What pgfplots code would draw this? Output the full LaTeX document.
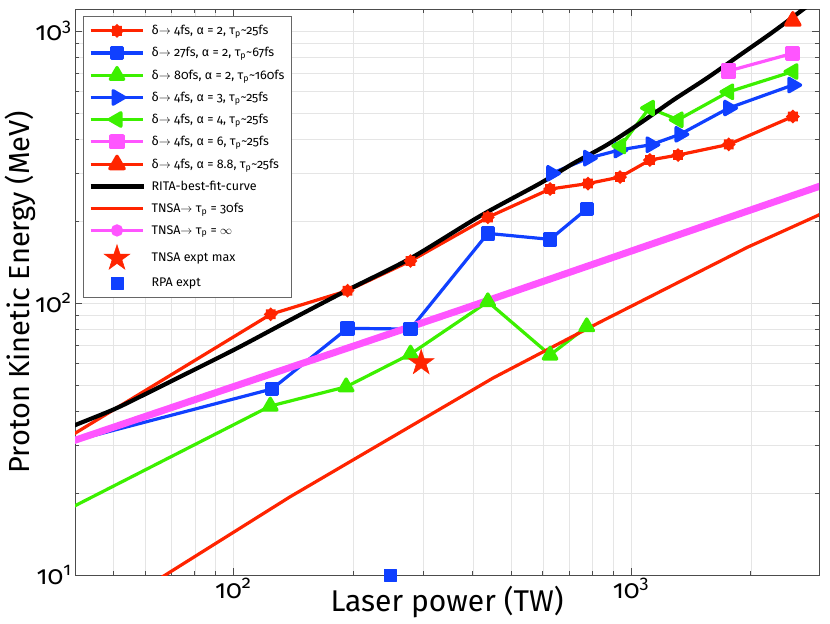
\documentclass[border=0pt]{standalone}
\usepackage{fontspec}
\setmainfont{Fira Sans}[Numbers=OldStyle]
\usepackage{pgfplots}
\pgfplotsset{compat=1.18}
\definecolor{cR}{RGB}{255,36,0}
\definecolor{cB}{RGB}{16,64,255}
\definecolor{cG}{RGB}{60,240,0}
\definecolor{cM}{RGB}{255,85,255}
\pgfdeclareplotmark{mstar}{%
  \pgfsetroundcap\pgfsetlinewidth{0.55\pgfplotmarksize}%
  \pgfpathmoveto{\pgfpoint{-0.72\pgfplotmarksize}{0pt}}\pgfpathlineto{\pgfpoint{0.72\pgfplotmarksize}{0pt}}%
  \pgfpathmoveto{\pgfpoint{0pt}{-0.72\pgfplotmarksize}}\pgfpathlineto{\pgfpoint{0pt}{0.72\pgfplotmarksize}}%
  \pgfpathmoveto{\pgfpointpolar{45}{0.72\pgfplotmarksize}}\pgfpathlineto{\pgfpointpolar{225}{0.72\pgfplotmarksize}}%
  \pgfpathmoveto{\pgfpointpolar{135}{0.72\pgfplotmarksize}}\pgfpathlineto{\pgfpointpolar{315}{0.72\pgfplotmarksize}}%
  \pgfusepathqstroke}
\pgfdeclareplotmark{fstar}{%
  \pgfpathmoveto{\pgfpointpolar{90}{\pgfplotmarksize}}%
  \pgfpathlineto{\pgfpointpolar{126}{0.382\pgfplotmarksize}}%
  \pgfpathlineto{\pgfpointpolar{162}{\pgfplotmarksize}}%
  \pgfpathlineto{\pgfpointpolar{198}{0.382\pgfplotmarksize}}%
  \pgfpathlineto{\pgfpointpolar{234}{\pgfplotmarksize}}%
  \pgfpathlineto{\pgfpointpolar{270}{0.382\pgfplotmarksize}}%
  \pgfpathlineto{\pgfpointpolar{306}{\pgfplotmarksize}}%
  \pgfpathlineto{\pgfpointpolar{342}{0.382\pgfplotmarksize}}%
  \pgfpathlineto{\pgfpointpolar{18}{\pgfplotmarksize}}%
  \pgfpathlineto{\pgfpointpolar{54}{0.382\pgfplotmarksize}}%
  \pgfpathclose\pgfusepathqfillstroke}
\newcommand{\dl}{δ$\rightarrow$}
\newcommand{\tp}{τ\textsubscript{p}}
\begin{document}
\begin{tikzpicture}
\begin{axis}[
  name=ax, scale only axis, width=744pt, height=565.5pt,
  xmode=log, ymode=log, xmin=40, xmax=2970, ymin=10, ymax=1200,
  xtick={100,1000}, xticklabels={10\textsuperscript{2},10\textsuperscript{3}},
  ytick={10,100,1000}, yticklabels={10\textsuperscript{1},10\textsuperscript{2},10\textsuperscript{3}},
  minor xtick={40,50,60,70,80,90,200,300,400,500,600,700,800,900,2000,3000},
  minor ytick={20,30,40,50,60,70,80,90,200,300,400,500,600,700,800,900},
  grid=both, major grid style={black!10}, minor grid style={black!10},
  axis line style={black!70, line width=0.8pt},
  major tick length=7pt, minor tick length=4pt,
  tick style={black!70, line width=0.6pt},
  tick label style={font=\fontsize{26}{28}\selectfont},
  xlabel={Laser power (TW)}, ylabel={Proton Kinetic Energy (MeV)},
  xlabel style={font=\fontsize{30}{32}\selectfont, at={(axis description cs:0.5,-0.0637)}, anchor=base},
  ylabel style={font=\fontsize{29}{31}\selectfont, at={(axis description cs:-0.0605,0.50)}, anchor=base},
  legend cell align=left,
  legend image code/.code={\draw[mark repeat=2,mark phase=2,#1] plot coordinates {(0cm,0cm) (0.93cm,0cm) (1.86cm,0cm)};},
  legend style={at={(axis description cs:0.0108,0.9885)}, anchor=north west,
    draw=black!60, line width=0.8pt, fill=white, inner xsep=5pt, inner ysep=7pt,
    column sep=4pt,
    font=\fontsize{12.5}{14}\selectfont, row sep=7.2pt},
]
\addplot[cR, line width=3.2pt, mark=mstar, mark size=7pt] coordinates {
(30,25.7)(124.2,90.9)(193.8,111.0)(279,142.7)(436.6,206.5)(626,262.5)(779.8,274.9)(938.5,290.5)(1116,335.6)(1313,349.9)(1761,383)(2552,485)};
\addlegendentry{\dl\ 4fs, α = 2, \tp\textasciitilde 25fs}
\addplot[cB, line width=3.2pt, mark=square*, mark size=5.6pt, mark options={line join=round, fill=cB}] coordinates {
(30,28.0)(125.1,48.3)(193.8,80.7)(279,80.2)(436.6,180.3)(626,171.4)(775,222)};
\addlegendentry{\dl\ 27fs, α = 2, \tp\textasciitilde 67fs}
\addplot[cG, line width=3.2pt, mark=triangle*, mark size=7.8pt, mark options={line join=round, fill=cG}] coordinates {
(30,14.5)(123.9,41.8)(192.2,49.2)(279,64.9)(436.6,101.1)(626,64.4)(774,81.8)};
\addlegendentry{\dl\ 80fs, α = 2, \tp\textasciitilde 160fs}
\addplot[cB, line width=3.2pt, mark=triangle*, mark size=7.8pt, mark options={line join=round, fill=cB, rotate=-90}] coordinates {
(632,299.8)(782,341)(933,365)(1123,382)(1328,417)(1761,521)(2552,633)};
\addlegendentry{\dl\ 4fs, α = 3, \tp\textasciitilde 25fs}
\addplot[cG, line width=3.2pt, mark=triangle*, mark size=7.8pt, mark options={line join=round, fill=cG, rotate=90}] coordinates {
(942,378)(1112,521)(1313,471.6)(1761,597.7)(2552,709.7)};
\addlegendentry{\dl\ 4fs, α = 4, \tp\textasciitilde 25fs}
\addplot[cM, line width=3.2pt, mark=square*, mark size=6pt, mark options={line join=round, fill=cM}] coordinates {
(1761,713.5)(2552,828)};
\addlegendentry{\dl\ 4fs, α = 6, \tp\textasciitilde 25fs}
\addplot[cR, line width=3.2pt, mark=triangle*, mark size=8.3pt, mark options={line join=round, fill=cR}] coordinates {
(2552,1089)};
\addlegendentry{\dl\ 4fs, α = 8.8, \tp\textasciitilde 25fs}
\addplot[black, line width=4.2pt, smooth] coordinates {
(36,33.3)(39.7,35.4)(50.0,40.6)(59.5,45.9)(73.6,53.6)(102.2,68.2)(139,86.6)(193.8,111.6)(279,146)(417.6,208.9)(590.7,275.4)(716.6,326.3)(868.9,381)(1053.4,457.9)(1277.6,557.5)(1549,669.8)(1879,816)(2278,994)(2711,1202)(3000,1343)};
\addlegendentry{RITA-best-fit-curve}
\addplot[cR, line width=3.2pt] coordinates {
(60,9)(67.5,10.0)(139,19.4)(450,53.0)(836,85.1)(1968,160.6)(2965,210.6)(3000,212.5)};
\addlegendentry{TNSA$\rightarrow$ \tp\ = 30fs}
\addplot[cM, line width=7pt, legend image code/.code={\draw[cM, line width=2.4pt] (0cm,0cm) -- (1.86cm,0cm); \fill[cM] (0.93cm,0cm) circle (2.4pt);}] coordinates {
(38,30.5)(40,31.3)(371.5,94.2)(2965,268)(3000,269.5)};
\addlegendentry{TNSA$\rightarrow$ \tp\ = $\infty$}
\addplot[only marks, cR, mark=fstar, mark size=13.5pt, mark options={fill=cR, line width=0.5pt}] coordinates {(296.8,60.3)};
\addlegendentry{TNSA expt max}
\addplot[only marks, cB, mark=square*, mark size=6pt, mark options={fill=cB, line width=1pt, line join=round}] coordinates {(248,10)};
\addlegendentry{RPA expt}
\end{axis}
\pgfresetboundingbox
\path ([xshift=-75pt,yshift=-48pt]ax.south west) rectangle ([xshift=11pt,yshift=9.5pt]ax.north east);
\end{tikzpicture}
\end{document}
